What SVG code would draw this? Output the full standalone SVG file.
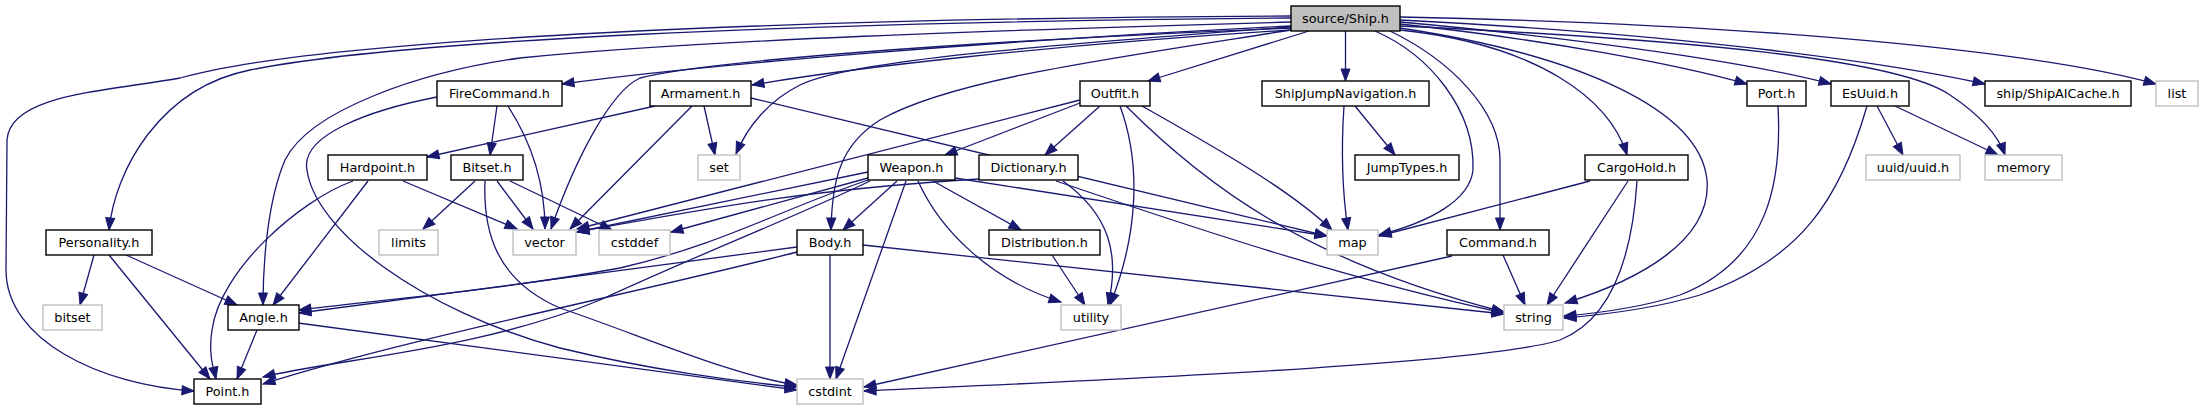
<svg xmlns="http://www.w3.org/2000/svg" width="2203" height="411" viewBox="0 0 2203 411">
<style>
.n rect{fill:#fff;stroke:#000;stroke-width:1.4}
.x rect{fill:#fff;stroke:#bfbfbf;stroke-width:1.4}
.r rect{fill:#bfbfbf;stroke:#000;stroke-width:1.4}
text{font-family:"DejaVu Sans","Liberation Sans",sans-serif;font-size:12.8px;text-anchor:middle;fill:#000}
#edges path{fill:none;stroke:#191970;stroke-width:1.3;marker-end:url(#arr)}
</style>
<defs>
<marker id="arr" markerUnits="userSpaceOnUse" markerWidth="14" markerHeight="11" refX="12" refY="4.5" orient="auto" overflow="visible">
<path d="M0,0L12,4.5L0,9z" fill="#191970" stroke="#191970" stroke-width="1"/>
</marker>
</defs>
<rect width="2203" height="411" fill="#fff"/>
<g id="edges">
<path d="M1291,18 C800,22 400,40 250,70 C160,88 115,170 109,230"/>
<path d="M1291,16 C800,18 320,38 180,78 C100,92 10,95 7,140 L6,270 C6,340 100,385 194,391"/>
<path d="M1291,22 C1000,30 700,40 520,58 C420,72 310,110 285,160 C268,200 263,260 263,305"/>
<path d="M1291,26 C1000,40 700,65 562,84"/>
<path d="M1291,28 C950,42 700,62 640,78 C610,92 575,160 551,229"/>
<path d="M1291,30 C1050,45 850,68 752,85"/>
<path d="M1291,27 C1050,45 850,60 800,85 C770,100 748,125 736,154"/>
<path d="M1291,30 C1100,60 950,80 880,120 C840,145 832,180 831,230"/>
<path d="M1309,31 L1148,81"/>
<path d="M1345.5,31 L1345.5,81"/>
<path d="M1375,31 C1430,55 1475,110 1473,170 C1470,200 1430,222 1379,235"/>
<path d="M1390,31 C1450,60 1500,110 1500,160 L1500,230"/>
<path d="M1400,30 C1540,45 1610,100 1627,155"/>
<path d="M1400,28 C1580,55 1700,110 1707,180 C1712,240 1640,280 1565,303"/>
<path d="M1400,24 C1550,40 1680,65 1747,84"/>
<path d="M1400,22 C1600,40 1760,65 1831,84"/>
<path d="M1400,20 C1700,35 1900,65 1985,84"/>
<path d="M1400,17 C1800,25 2050,55 2156,84"/>
<path d="M1400,26 C1700,40 1900,60 1950,95 C1980,115 1998,135 2005,155"/>
<path d="M497,106 L490,155"/>
<path d="M508,106 C530,140 545,180 545,229"/>
<path d="M437,97 C370,110 300,135 307,170 C315,230 420,310 560,348 C650,370 740,382 797,387"/>
<path d="M655,106 L427,157"/>
<path d="M704,106 L715,155"/>
<path d="M692,106 L570,229"/>
<path d="M751,98 L1327,236"/>
<path d="M368,181 L273,305"/>
<path d="M353,181 C300,200 220,270 212,330 C208,355 214,370 216,379"/>
<path d="M403,181 L517,229"/>
<path d="M475,181 L423,229"/>
<path d="M497,181 L533,229"/>
<path d="M485,181 C483,230 495,280 560,308 C640,335 730,375 797,385"/>
<path d="M510,181 L612,230"/>
<path d="M94,255 L80,305"/>
<path d="M126,255 L237,305"/>
<path d="M109,255 L210,379"/>
<path d="M257,330 L237,379"/>
<path d="M298,323 L797,390"/>
<path d="M1080,103 L945,155"/>
<path d="M1100,106 L1045,155"/>
<path d="M1120,106 C1140,160 1140,230 1110,305"/>
<path d="M1126,106 C1200,180 1300,260 1504,312"/>
<path d="M1142,106 C1220,150 1290,190 1332,230"/>
<path d="M1080,100 L577,229"/>
<path d="M897,181 L843,230"/>
<path d="M933,181 L1021,230"/>
<path d="M918,181 C940,230 990,280 1061,302"/>
<path d="M906,181 L836,379"/>
<path d="M955,178 L1327,236"/>
<path d="M868,172 L577,232"/>
<path d="M868,178 L671,232"/>
<path d="M868,180 C780,210 720,245 620,268 C500,290 380,300 299,310"/>
<path d="M870,181 C800,215 720,245 600,300 C480,350 330,360 263,377"/>
<path d="M797,247 L299,313"/>
<path d="M797,252 C650,290 400,340 263,384"/>
<path d="M830,255 L830,379"/>
<path d="M863,245 L1504,314"/>
<path d="M979,179 C800,190 700,210 577,232"/>
<path d="M1063,181 C1110,215 1120,255 1108,305"/>
<path d="M1056,181 C1200,230 1350,280 1504,313"/>
<path d="M1052,255 L1085,305"/>
<path d="M1355,106 L1395,155"/>
<path d="M1344,106 C1341,150 1342,190 1348,230"/>
<path d="M1590,181 L1379,236"/>
<path d="M1628,181 L1547,305"/>
<path d="M1637,181 C1632,260 1610,320 1560,340 C1480,365 1100,380 864,391"/>
<path d="M1503,255 L1525,305"/>
<path d="M1452,256 L864,387"/>
<path d="M1778,106 C1782,180 1770,260 1680,295 C1640,308 1600,313 1564,316"/>
<path d="M1877,106 L1903,155"/>
<path d="M1895,106 L1998,155"/>
<path d="M1867,106 C1840,200 1800,260 1700,295 C1650,310 1600,315 1564,318"/>
</g>
<g id="n_ship" class="r"><rect x="1291" y="6" width="109" height="25"/><text x="1345.5" y="23">source/Ship.h</text></g>
<g id="n_firecommand" class="n"><rect x="437" y="81" width="125" height="25"/><text x="499.5" y="98">FireCommand.h</text></g>
<g id="n_armament" class="n"><rect x="650" y="81" width="101" height="25"/><text x="700.5" y="98">Armament.h</text></g>
<g id="n_outfit" class="n"><rect x="1080" y="81" width="70" height="25"/><text x="1115" y="98">Outfit.h</text></g>
<g id="n_sjn" class="n"><rect x="1262" y="81" width="167" height="25"/><text x="1345.5" y="98">ShipJumpNavigation.h</text></g>
<g id="n_port" class="n"><rect x="1747" y="81" width="59" height="25"/><text x="1776.5" y="98">Port.h</text></g>
<g id="n_esuuid" class="n"><rect x="1831" y="81" width="78" height="25"/><text x="1870" y="98">EsUuid.h</text></g>
<g id="n_aicache" class="n"><rect x="1985" y="81" width="146" height="25"/><text x="2058" y="98">ship/ShipAICache.h</text></g>
<g id="n_list" class="x"><rect x="2156" y="81" width="42" height="25"/><text x="2177" y="98">list</text></g>
<g id="n_hardpoint" class="n"><rect x="328" y="155" width="99" height="25"/><text x="377.5" y="172">Hardpoint.h</text></g>
<g id="n_bitset_h" class="n"><rect x="451" y="155" width="72" height="25"/><text x="487" y="172">Bitset.h</text></g>
<g id="n_set" class="x"><rect x="698" y="155" width="42" height="25"/><text x="719" y="172">set</text></g>
<g id="n_weapon" class="n"><rect x="868" y="155" width="87" height="25"/><text x="911.5" y="172">Weapon.h</text></g>
<g id="n_dictionary" class="n"><rect x="979" y="155" width="99" height="25"/><text x="1028.5" y="172">Dictionary.h</text></g>
<g id="n_jumptypes" class="n"><rect x="1355" y="155" width="104" height="25"/><text x="1407" y="172">JumpTypes.h</text></g>
<g id="n_cargohold" class="n"><rect x="1585" y="155" width="103" height="25"/><text x="1636.5" y="172">CargoHold.h</text></g>
<g id="n_uuid" class="x"><rect x="1866" y="155" width="94" height="25"/><text x="1913" y="172">uuid/uuid.h</text></g>
<g id="n_memory" class="x"><rect x="1985" y="155" width="77" height="25"/><text x="2023.5" y="172">memory</text></g>
<g id="n_personality" class="n"><rect x="46" y="230" width="106" height="25"/><text x="99" y="247">Personality.h</text></g>
<g id="n_limits" class="x"><rect x="379" y="230" width="59" height="25"/><text x="408.5" y="247">limits</text></g>
<g id="n_vector" class="x"><rect x="513" y="230" width="63" height="25"/><text x="544.5" y="247">vector</text></g>
<g id="n_cstddef" class="x"><rect x="599" y="230" width="71" height="25"/><text x="634.5" y="247">cstddef</text></g>
<g id="n_body" class="n"><rect x="797" y="230" width="66" height="25"/><text x="830" y="247">Body.h</text></g>
<g id="n_distribution" class="n"><rect x="989" y="230" width="111" height="25"/><text x="1044.5" y="247">Distribution.h</text></g>
<g id="n_map" class="x"><rect x="1327" y="230" width="51" height="25"/><text x="1352.5" y="247">map</text></g>
<g id="n_command" class="n"><rect x="1447" y="230" width="102" height="25"/><text x="1498" y="247">Command.h</text></g>
<g id="n_bitset" class="x"><rect x="43" y="305" width="59" height="25"/><text x="72.5" y="322">bitset</text></g>
<g id="n_angle" class="n"><rect x="228" y="305" width="71" height="25"/><text x="263.5" y="322">Angle.h</text></g>
<g id="n_utility" class="x"><rect x="1061" y="305" width="60" height="25"/><text x="1091" y="322">utility</text></g>
<g id="n_string" class="x"><rect x="1504" y="305" width="59" height="25"/><text x="1533.5" y="322">string</text></g>
<g id="n_point" class="n"><rect x="194" y="379" width="67" height="25"/><text x="227.5" y="396">Point.h</text></g>
<g id="n_cstdint" class="x"><rect x="797" y="379" width="66" height="25"/><text x="830" y="396">cstdint</text></g>
</svg>
